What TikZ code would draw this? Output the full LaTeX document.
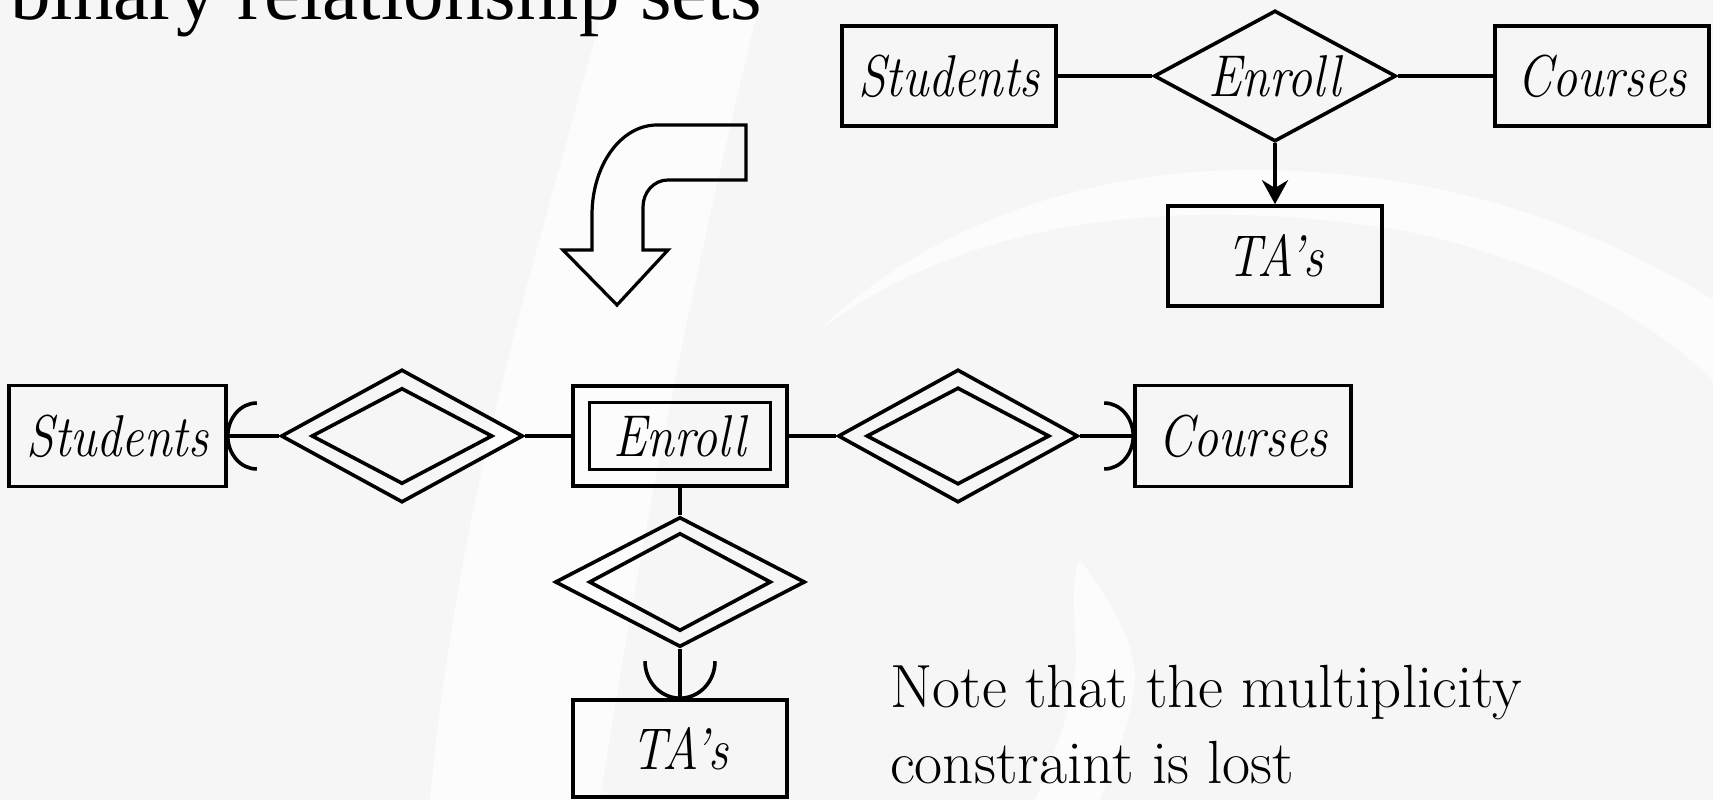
\documentclass[tikz,border=0pt]{standalone}
\usepackage{fontspec}
\newfontfamily\titlefont{Liberation Serif}
\usetikzlibrary{shapes.geometric,arrows.meta,calc}
\definecolor{slidebg}{HTML}{F6F6F6}
\newcommand\erlabel[1]{\scalebox{1}[1.18]{#1}}
\begin{document}
\begin{tikzpicture}[x=1pt,y=1pt,
  ent/.style={draw, rectangle, line width=3.6pt, minimum width=214pt,
    minimum height=100pt, inner sep=0pt,
    font=\fontsize{50}{60}\selectfont\itshape},
  rel/.style={draw, diamond, line width=3.6pt, inner sep=0pt, aspect=1.85,
    font=\fontsize{50}{60}\selectfont\itshape},
  conn/.style={line width=3.6pt},
  swoosh/.style={fill=white, fill opacity=0.75},
  notetext/.style={anchor=base west, inner sep=0pt,
    font=\fontsize{61}{76}\selectfont}]

\useasboundingbox (0,0) rectangle (1713,-800);
\clip (0,0) rectangle (1713,-800);

% slide background with soft white swooshes
\fill[slidebg] (0,0) rectangle (1713,-800);
\fill[swoosh] (605,0) -- (760,0) .. controls (700,-250) and (650,-480) .. (600,-800)
  -- (430,-800) .. controls (460,-480) and (540,-250) .. (605,0) -- cycle;
\fill[swoosh] (1080,-560) .. controls (1110,-600) and (1135,-640) .. (1135,-680)
  .. controls (1130,-730) and (1110,-770) .. (1100,-800) -- (1035,-800)
  .. controls (1060,-740) and (1080,-690) .. (1075,-640)
  .. controls (1075,-610) and (1070,-585) .. (1080,-560) -- cycle;
\fill[swoosh] (820,-330) .. controls (950,-230) and (1150,-190) .. (1400,-230)
  .. controls (1550,-260) and (1650,-320) .. (1713,-380) -- (1713,-300)
  .. controls (1600,-230) and (1450,-170) .. (1250,-170)
  .. controls (1050,-170) and (900,-250) .. (820,-330) -- cycle;

% title
\node[anchor=base west, inner sep=0pt,
  font=\titlefont\fontsize{81}{90}\selectfont] (title) at (10,-20)
  {binary relationship sets};

% ternary version
\node[ent] (tS) at (949,-76) {\erlabel{Students}};
\node[rel, minimum width=242pt, minimum height=131pt] (tE) at (1275,-76) {\erlabel{Enroll}};
\node[ent] (tC) at (1602,-76) {\erlabel{Courses}};
\node[ent] (tT) at (1275,-256) {\erlabel{TA\kern-5pt’s}};
\draw[conn] (tS.east) -- (tE.west);
\draw[conn] (tE.east) -- (tC.west);
\draw[conn, -{Stealth[length=24pt,width=26pt]}] (tE.south) -- (tT.north);

% transformation arrow
\draw[line width=3.2pt, line join=miter]
  (657,-125) -- (746,-125) -- (746,-180) -- (668,-180)
  .. controls (654,-180) and (643,-192) .. (643,-207)
  -- (643,-250) -- (668,-250) -- (617,-305) -- (563,-250) -- (592,-250)
  -- (592,-215) .. controls (592,-165) and (621,-125) .. (657,-125) -- cycle;

% binary version with Enroll as weak entity set
\node[ent, minimum width=217pt, minimum height=101pt] (bS) at (117.5,-436) {\erlabel{Students}};
\node[rel, minimum width=242pt, minimum height=133pt] (bR1) at (402,-436) {};
\node[rel, minimum width=181pt, minimum height=96pt] (bR1i) at (bR1.center) {};
\node[ent] (bE) at (680,-436) {\erlabel{Enroll}};
\node[draw, rectangle, line width=3.6pt, minimum width=181pt, minimum height=67pt,
  inner sep=0pt] (bEi) at (bE.center) {};
\node[rel, minimum width=240pt, minimum height=133pt] (bR2) at (958,-436) {};
\node[rel, minimum width=183pt, minimum height=97pt] (bR2i) at (bR2.center) {};
\node[ent, minimum width=216pt, minimum height=101pt] (bC) at (1243,-436) {\erlabel{Courses}};
\node[rel, minimum width=250pt, minimum height=130pt] (bR3) at (680,-582) {};
\node[rel, minimum width=182pt, minimum height=98pt] (bR3i) at (bR3.center) {};
\node[ent, minimum height=97pt] (bT) at (680,-748.5) {\erlabel{TA\kern-5pt’s}};

\draw[conn] (bS.east) -- (bR1.west);
\draw[conn] (bR1.east) -- (bE.west);
\draw[conn] (bE.east) -- (bR2.west);
\draw[conn] (bR2.east) -- (bC.west);
\draw[conn] (bE.south) -- (bR3.north);
\draw[conn] (bR3.south) -- (bT.north);

% rounded participation marks
\draw[conn] ([shift={(29pt,33pt)}]bS.east)
  arc[start angle=90, end angle=270, x radius=29pt, y radius=33pt];
\draw[conn] ([shift={(-29pt,33pt)}]bC.west)
  arc[start angle=90, end angle=-90, x radius=29pt, y radius=33pt];
\draw[conn] ([shift={(-35pt,37pt)}]bT.north)
  arc[start angle=180, end angle=360, x radius=35pt, y radius=37pt];

% note
\node[notetext] (note1) at (890,-707) {Note that the multiplicity};
\node[notetext] (note2) at (890,-783) {constraint is lost};
\end{tikzpicture}
\end{document}
